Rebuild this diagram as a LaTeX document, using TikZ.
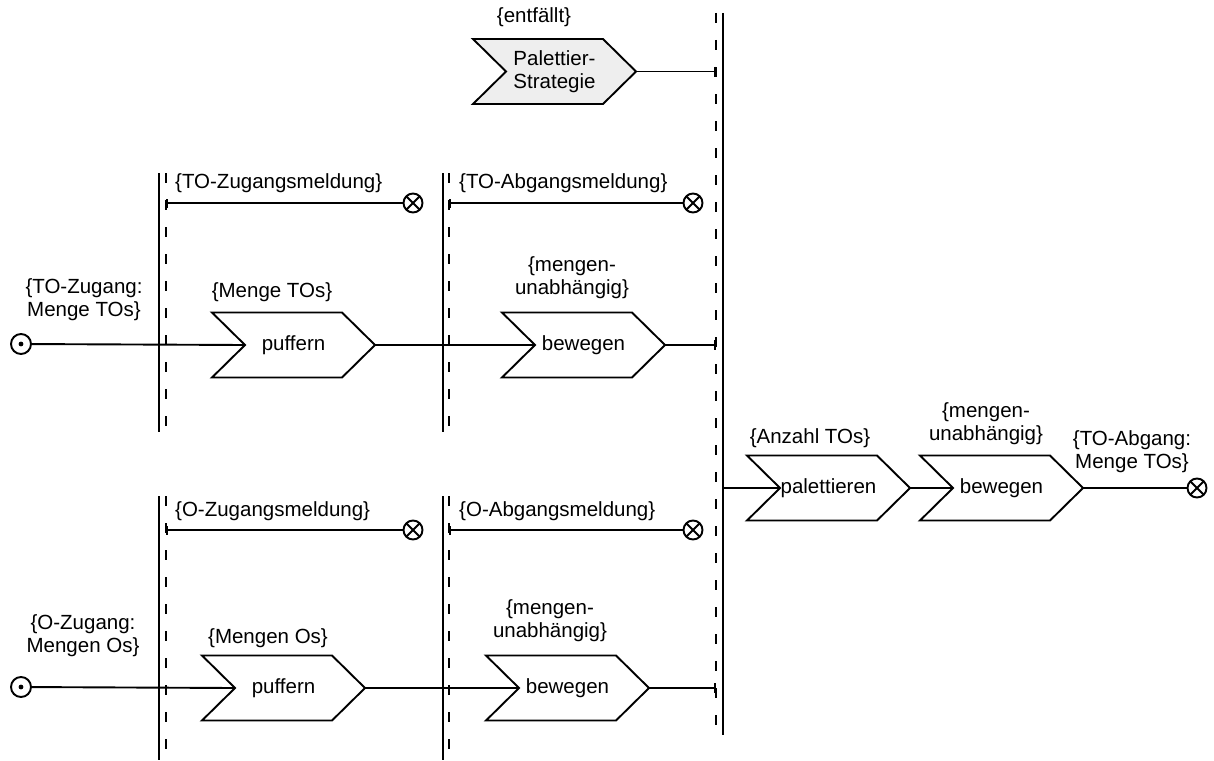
\documentclass[tikz,border=0pt]{standalone}
\usepackage{fontspec}
\setmainfont{Liberation Sans}
\usetikzlibrary{arrows.meta}
\definecolor{shade}{HTML}{EEEEEE}

% chevron-shaped process step: name, centre x, centre y, text, fill
\newcommand\chevron[5]{%
  \filldraw[chev, fill=#5] (#2-81.5,#3-32.5) -- (#2+48.5,#3-32.5) -- (#2+81.5,#3)
    -- (#2+48.5,#3+32.5) -- (#2-81.5,#3+32.5) -- (#2-48.5,#3) -- cycle;
  \node[chevtext] (#1) at (#2,#3) {#4};
  \coordinate (#1-in) at (#2-48.5,#3);
  \coordinate (#1-out) at (#2+81.5,#3);
}

\begin{document}
\begin{tikzpicture}[x=1pt, y=-1pt,
  font=\fontsize{20.5}{23}\selectfont,
  chev/.style={line width=1.9pt, line join=miter},
  chevtext/.style={align=center, inner sep=0pt},
  lbl/.style={align=center, inner sep=0pt},
  sidelbl/.style={anchor=west, inner sep=0pt},
  solidbar/.style={line width=2.1pt},
  dashbar/.style={line width=2.1pt, dash pattern=on 10pt off 17pt},
  flow/.style={line width=1.9pt},
  flowend/.style={line width=1.9pt, -{Bar[width=10pt, line width=1.9pt]}},
  msg/.style={line width=1.9pt, {Bar[width=9pt, line width=1.9pt]}-},
  startev/.style={circle, draw, line width=1.9pt, minimum size=20pt, inner sep=0pt,
    path picture={\fill (path picture bounding box.center) circle (2.4pt);}},
  endev/.style={circle, draw, line width=1.9pt, minimum size=19pt, inner sep=0pt,
    path picture={\draw[line width=1.9pt]
      (path picture bounding box.north west) -- (path picture bounding box.south east)
      (path picture bounding box.north east) -- (path picture bounding box.south west);}},
]
\useasboundingbox (0,0) rectangle (1214,760);

% synchronisation bars
\draw[solidbar] (159,173) -- (159,432);  \draw[dashbar] (166,173) -- (166,432);
\draw[solidbar] (443,173) -- (443,432);  \draw[dashbar] (449,173) -- (449,432);
\draw[solidbar] (159,496) -- (159,760);  \draw[dashbar] (166,496) -- (166,760);
\draw[solidbar] (443,496) -- (443,760);  \draw[dashbar] (449,496) -- (449,760);
\draw[solidbar] (723,13) -- (723,735);   \draw[dashbar] (716,13) -- (716,735);

% process steps
\chevron{strat}{554.5}{71.5}{Palettier-\\Strategie}{shade}
\chevron{puf1}{293.5}{345}{puffern}{white}
\chevron{bew1}{583.5}{345}{bewegen}{white}
\chevron{puf2}{283.5}{688}{puffern}{white}
\chevron{bew2}{567.5}{688}{bewegen}{white}
\chevron{pal}{828.5}{488}{palettieren}{white}
\chevron{bew3}{1001.5}{488}{bewegen}{white}

% annotations
\node[lbl] (l-strat) at (534,17) {\{entfällt\}};
\node[lbl] (l-puf1) at (272,292) {\{Menge TOs\}};
\node[lbl] (l-bew1) at (572,278) {\{mengen-\\unabhängig\}};
\node[lbl] (l-in1) at (84,300) {\{TO-Zugang:\\Menge TOs\}};
\node[lbl] (l-puf2) at (268,638) {\{Mengen Os\}};
\node[lbl] (l-bew2) at (550,621) {\{mengen-\\unabhängig\}};
\node[lbl] (l-in2) at (83,636) {\{O-Zugang:\\Mengen Os\}};
\node[lbl] (l-pal) at (810,438) {\{Anzahl TOs\}};
\node[lbl] (l-bew3) at (986,424) {\{mengen-\\unabhängig\}};
\node[lbl] (l-out) at (1132,452) {\{TO-Abgang:\\Menge TOs\}};
\node[sidelbl] (l-m1) at (175,183) {\{TO-Zugangsmeldung\}};
\node[sidelbl] (l-m2) at (459,183) {\{TO-Abgangsmeldung\}};
\node[sidelbl] (l-m3) at (175,511) {\{O-Zugangsmeldung\}};
\node[sidelbl] (l-m4) at (459,511) {\{O-Abgangsmeldung\}};

% events
\node[startev] (in1) at (21,344) {};
\node[startev] (in2) at (21,687) {};
\node[endev] (x1) at (413,203) {};
\node[endev] (x2) at (693,203) {};
\node[endev] (x3) at (413,530) {};
\node[endev] (x4) at (693,530) {};
\node[endev] (out) at (1197,488) {};

% attachment points on the bars
\coordinate (m1) at (166,203);
\coordinate (m2) at (449,203);
\coordinate (m3) at (166,530);
\coordinate (m4) at (449,530);
\coordinate (r0) at (716,71.5);
\coordinate (r1) at (716,345);
\coordinate (r2) at (716,688);
\coordinate (r3) at (723,488);

% message flows
\draw[msg] (m1) -- (x1);
\draw[msg] (m2) -- (x2);
\draw[msg] (m3) -- (x3);
\draw[msg] (m4) -- (x4);

% material flows
\draw[flow] (in1) -- (puf1-in);
\draw[flow] (puf1-out) -- (bew1-in);
\draw[flowend] (bew1-out) -- (r1);
\draw[flow] (in2) -- (puf2-in);
\draw[flow] (puf2-out) -- (bew2-in);
\draw[flowend] (bew2-out) -- (r2);
\draw[flowend] (strat-out) -- (r0);
\draw[flow] (r3) -- (pal-in);
\draw[flow] (pal-out) -- (bew3-in);
\draw[flow] (bew3-out) -- (out);
\end{tikzpicture}
\end{document}
